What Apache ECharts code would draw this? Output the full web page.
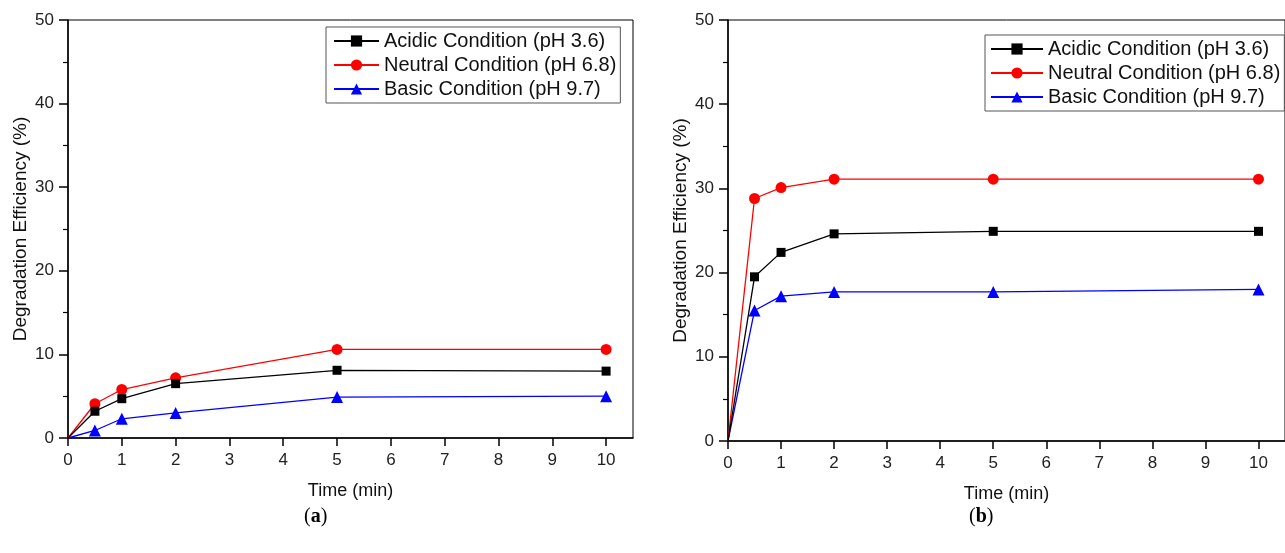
<!DOCTYPE html>
<html>
<head>
<meta charset="utf-8">
<script src="https://cdn.jsdelivr.net/npm/echarts@6/dist/echarts.min.js"></script>
<style>
  html, body { margin: 0; padding: 0; background: #fff; }
  #chart { width: 1285px; height: 553px; }
</style>
</head>
<body>
<div id="chart"></div>
<script>
var times = [0, 0.5, 1, 2, 5, 10];
var xTicks = [0, 1, 2, 3, 4, 5, 6, 7, 8, 9, 10];
var names = ['Acidic Condition (pH 3.6)', 'Neutral Condition (pH 6.8)', 'Basic Condition (pH 9.7)'];

// (a)
var acidicA = [0, 3.2, 4.7, 6.5, 8.1, 8.0];
var neutralA = [0, 4.1, 5.8, 7.2, 10.6, 10.6];
var basicA = [0, 0.9, 2.3, 3.0, 4.9, 5.0];

// (b)
var acidicB = [0, 19.5, 22.4, 24.6, 24.9, 24.9];
var neutralB = [0, 28.8, 30.1, 31.1, 31.1, 31.1];
var basicB = [0, 15.5, 17.2, 17.7, 17.7, 18.0];

var fontFamily = "'Liberation Sans', Arial, sans-serif";
var colors = ['#000000', '#ff0000', '#0000ff'];
var symbols = ['rect', 'circle', 'triangle'];
var sizes = [9, 11, 12];

function pairs(vals) {
    return times.map(function (t, i) { return [t, vals[i]]; });
}

function makeX(gridIndex) {
    return {
        type: 'value',
        gridIndex: gridIndex,
        min: 0,
        max: 10.5,
        name: 'Time (min)',
        nameLocation: 'middle',
        nameGap: 44,
        nameTextStyle: { fontSize: 18, color: '#111', fontFamily: fontFamily },
        axisLine: { show: true, lineStyle: { color: '#000', width: 1.5 } },
        axisTick: { show: true, inside: false, length: 8, customValues: xTicks, lineStyle: { color: '#000', width: 1.5 } },
        axisLabel: { customValues: xTicks, fontSize: 17, color: '#222', margin: 14, fontFamily: fontFamily },
        splitLine: { show: false }
    };
}

function makeY(gridIndex) {
    return {
        type: 'value',
        gridIndex: gridIndex,
        min: 0,
        max: 50,
        interval: 10,
        name: 'Degradation Efficiency (%)',
        nameLocation: 'middle',
        nameGap: 38,
        nameTextStyle: { fontSize: 19, color: '#111', fontFamily: fontFamily },
        axisLine: { show: true, lineStyle: { color: '#000', width: 1.5 } },
        axisTick: { show: true, inside: false, length: 9, lineStyle: { color: '#000', width: 1.5 } },
        minorTick: { show: true, splitNumber: 2, length: 5, lineStyle: { color: '#000', width: 1.2 } },
        axisLabel: { fontSize: 17, color: '#222', margin: 14, fontFamily: fontFamily },
        splitLine: { show: false }
    };
}

function makeSeries(idx, vals, gridIndex) {
    return {
        name: names[idx],
        type: 'line',
        xAxisIndex: gridIndex,
        yAxisIndex: gridIndex,
        data: pairs(vals),
        symbol: symbols[idx],
        symbolSize: function (v) { return v[0] === 0 ? 0 : sizes[idx]; },
        showAllSymbol: true,
        lineStyle: { color: colors[idx], width: 1.3 },
        itemStyle: { color: colors[idx] },
        emphasis: { disabled: true },
        z: 3 - idx + 2
    };
}

var chart = echarts.init(document.getElementById('chart'));

var option = {
    animation: false,
    backgroundColor: '#fff',
    textStyle: { fontFamily: fontFamily },
    grid: [
        { left: 68, top: 20, width: 565, height: 418, show: true, borderColor: '#000', borderWidth: 1, backgroundColor: 'transparent' },
        { left: 728, top: 20, width: 567, height: 421, show: true, borderColor: '#000', borderWidth: 1, backgroundColor: 'transparent' }
    ],
    xAxis: [makeX(0), makeX(1)],
    yAxis: [makeY(0), makeY(1)],
    legend: [
        {
            orient: 'vertical', left: 326, top: 27,
            data: names,
            itemWidth: 45, itemHeight: 14, itemGap: 4,
            padding: [4, 4, 4, 7],
            borderColor: '#555', borderWidth: 1,
            textStyle: { fontSize: 20, color: '#111', fontFamily: fontFamily }
        },
        {
            orient: 'vertical', left: 985, top: 35,
            data: names,
            itemWidth: 52, itemHeight: 14, itemGap: 4,
            padding: [4, 4, 4, 5],
            borderColor: '#555', borderWidth: 1,
            textStyle: { fontSize: 20, color: '#111', fontFamily: fontFamily }
        }
    ],
    graphic: [
        {
            type: 'text', left: 304, top: 507,
            style: {
                text: '({a|a})',
                font: "20px 'Liberation Serif', serif",
                fill: '#000',
                rich: { a: { fontWeight: 'bold', fontSize: 20, fontFamily: "'Liberation Serif', serif" } }
            }
        },
        {
            type: 'text', left: 969, top: 507,
            style: {
                text: '({b|b})',
                font: "20px 'Liberation Serif', serif",
                fill: '#000',
                rich: { b: { fontWeight: 'bold', fontSize: 20, fontFamily: "'Liberation Serif', serif" } }
            }
        }
    ],
    series: [
        makeSeries(0, acidicA, 0),
        makeSeries(1, neutralA, 0),
        makeSeries(2, basicA, 0),
        makeSeries(0, acidicB, 1),
        makeSeries(1, neutralB, 1),
        makeSeries(2, basicB, 1)
    ]
};

chart.setOption(option);
</script>
</body>
</html>
